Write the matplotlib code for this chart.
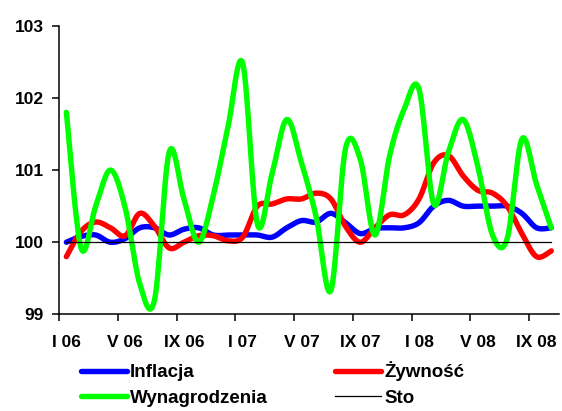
import numpy as np
import matplotlib
matplotlib.use("Agg")
import matplotlib.pyplot as plt
from matplotlib.ticker import FixedLocator, NullFormatter, FixedFormatter

plt.rcParams['font.family'] = ['Liberation Sans', 'DejaVu Sans']
plt.rcParams['font.weight'] = 'bold'

# monthly values, I 2006 - X 2008
tick_labels = ['I 06', 'V 06', 'IX 06', 'I 07', 'V 07', 'IX 07', 'I 08', 'V 08', 'IX 08']

inflacja = [100.0, 100.08, 100.1, 100.0, 100.05, 100.2, 100.2, 100.1, 100.18, 100.2,
            100.1, 100.1, 100.1, 100.1, 100.07, 100.2, 100.3, 100.28, 100.4, 100.27,
            100.12, 100.19, 100.2, 100.2, 100.27, 100.5, 100.58, 100.5, 100.5, 100.5,
            100.5, 100.4, 100.2, 100.2]

zywnosc = [99.8, 100.15, 100.28, 100.2, 100.09, 100.4, 100.22, 99.92, 100.0, 100.09,
           100.09, 100.02, 100.07, 100.5, 100.53, 100.6, 100.6, 100.68, 100.6, 100.22,
           100.0, 100.2, 100.38, 100.38, 100.6, 101.1, 101.2, 100.92, 100.72, 100.68,
           100.5, 100.12, 99.8, 99.88]

wynagrodzenia = [101.8, 99.92, 100.5, 101.0, 100.48, 99.42, 99.2, 101.25, 100.6, 100.0,
                 100.65, 101.6, 102.48, 100.25, 100.95, 101.7, 101.1, 100.35, 99.33, 101.3,
                 101.15, 100.1, 101.2, 101.85, 102.12, 100.53, 101.25, 101.7, 101.05, 100.1,
                 100.05, 101.43, 100.8, 100.2]

sto = [100.0] * len(inflacja)


def smooth(x, y, n=16):
    # Excel-like smoothed line (bezier through the points)
    pts = np.column_stack([x, y]).astype(float)
    out = [pts[0]]
    t = np.linspace(0, 1, n)[1:, None]
    for i in range(len(pts) - 1):
        p0 = pts[i - 1] if i > 0 else pts[i]
        p1 = pts[i]
        p2 = pts[i + 1]
        p3 = pts[i + 2] if i + 2 < len(pts) else pts[i + 1]
        c1 = p1 + (p2 - p0) / 6
        c2 = p2 - (p3 - p1) / 6
        seg = (1 - t) ** 3 * p1 + 3 * (1 - t) ** 2 * t * c1 + 3 * (1 - t) * t ** 2 * c2 + t ** 3 * p2
        out.extend(seg)
    out = np.array(out)
    return out[:, 0], out[:, 1]


x = np.arange(len(inflacja))

fig = plt.figure(figsize=(5.62, 4.11), dpi=100)
ax = fig.add_axes([0.105, 0.235, 0.889, 0.7025])

lw = 3.9
for vals, col, lab in [(inflacja, '#0000ff', 'Inflacja'),
                       (zywnosc, '#ff0000', 'Żywność'),
                       (wynagrodzenia, '#00ff00', 'Wynagrodzenia')]:
    sx, sy = smooth(x, vals)
    ax.plot(sx, sy, color=col, lw=lw, solid_capstyle='round', solid_joinstyle='round', label=lab)
ax.plot(x, sto, color='black', lw=0.9, label='Sto')

ax.set_xlim(-0.5, len(x) - 0.5)
ax.set_ylim(99, 103)
ax.set_yticks([99, 100, 101, 102, 103])

ax.xaxis.set_major_locator(FixedLocator(np.arange(-0.5, len(x) - 1, 4)))
ax.xaxis.set_major_formatter(NullFormatter())
ax.xaxis.set_minor_locator(FixedLocator(np.arange(0, len(x), 4)))
ax.xaxis.set_minor_formatter(FixedFormatter(tick_labels))
ax.tick_params(axis='x', which='major', length=5, width=1.1, direction='out')
ax.tick_params(axis='x', which='minor', length=0, pad=15, labelsize=12.5)
ax.tick_params(axis='y', length=5, width=1.1, direction='out', labelsize=12.5, pad=6)

for s in ['top', 'right']:
    ax.spines[s].set_visible(False)
for s in ['left', 'bottom']:
    ax.spines[s].set_linewidth(1.1)

h, l = ax.get_legend_handles_labels()
order = [0, 2, 1, 3]
fig.legend([h[i] for i in order], [l[i] for i in order], ncol=2,
           loc='upper left', bbox_to_anchor=(0.145, 0.12), frameon=False,
           borderpad=0, borderaxespad=0, handlelength=2.45, handletextpad=0.15,
           columnspacing=3.6, labelspacing=0.45, prop={'size': 13.5, 'weight': 'bold'})

fig.savefig('out.png', dpi=100)
